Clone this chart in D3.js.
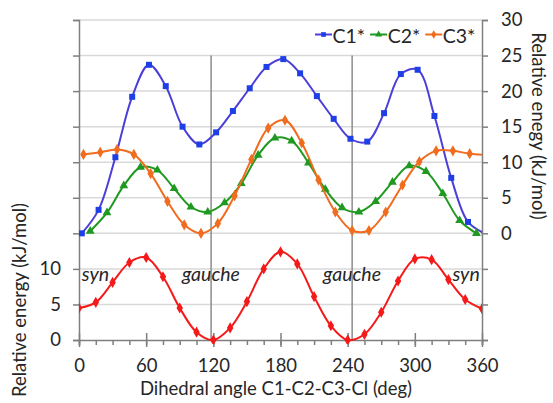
<!DOCTYPE html>
<html>
<head>
<meta charset="utf-8">
<script src="https://cdn.jsdelivr.net/npm/d3@7"></script>
<style>
  body { margin: 0; background: #fff; }
  text { font-family: Lato, "Open Sans", sans-serif; fill: #262626; }
</style>
</head>
<body>
<script>
// data
const c1Angle = [2.5, 17.5, 32.5, 47.5, 62.5, 77.5, 92.5, 107.5, 122.5, 137.5, 152.5, 167.5, 182.5, 197.5, 212.5, 227.5, 242.5, 257.5, 272.5, 287.5, 302.5, 317.5, 332.5, 347.5, 362.5];
const c1Energy = [0, 3.3, 10.7, 19.2, 23.7, 20.7, 15.0, 12.5, 14.2, 17.2, 20.4, 23.4, 24.5, 22.5, 19.3, 16.1, 13.3, 12.9, 16.9, 22.4, 23.0, 16.5, 7.8, 1.6, 0];

const c2Angle = [10, 25, 40, 55, 70, 85, 100, 115, 130, 145, 160, 175, 190, 205, 220, 235, 250, 265, 280, 295, 310, 325, 340, 355];
const c2Energy = [0.3, 2.9, 6.7, 9.3, 8.9, 6.3, 3.7, 3.0, 4.3, 7.0, 11.0, 13.4, 13.0, 9.9, 6.2, 3.6, 3.0, 4.5, 7.2, 9.5, 8.7, 5.6, 1.8, 0.0];

const c3Angle = [4, 19, 34, 49, 64, 79, 94, 109, 124, 139, 154, 169, 184, 199, 214, 229, 244, 259, 274, 289, 304, 319, 334, 349, 364];
const c3Energy = [11.1, 11.4, 11.8, 11.1, 8.4, 4.5, 1.2, 0.0, 1.4, 5.3, 10.4, 14.8, 15.9, 12.7, 7.5, 3.0, 0.4, 0.4, 3.0, 6.8, 10.1, 11.6, 11.6, 11.2, 11.0];

const clAngle = [0, 15, 30, 45, 60, 75, 90, 105, 120, 135, 150, 165, 180, 195, 210, 225, 240, 255, 270, 285, 300, 315, 330, 345, 360];
const clEnergy = [4.5, 5.3, 8.1, 10.9, 11.6, 8.9, 4.5, 1.1, 0, 1.7, 5.4, 10.0, 12.4, 10.7, 6.1, 2.0, 0, 0.8, 3.9, 8.3, 11.4, 11.3, 8.5, 5.7, 4.4];

const xTicks = [0, 60, 120, 180, 240, 300, 360];
const leftLabels = [0, 5, 10];
const rightLabels = [0, 5, 10, 15, 20, 25, 30];
const gaucheAngles = [118, 244];
const notes = [
  {text: "syn", angle: 2.5, anchor: "start"},
  {text: "gauche", angle: 92, anchor: "start"},
  {text: "gauche", angle: 218, anchor: "start"},
  {text: "syn", angle: 358, anchor: "end"}
];

const W = 553, H = 403;
const mLeft = 79, mRight = 482, mTop = 20, mBottom = 340;
const upperOffset = 15; // the upper panel sits 15 units up

const svg = d3.select("body").append("svg").attr("width", W).attr("height", H);

const x = d3.scaleLinear().domain([0, 360]).range([mLeft, mRight]);
const y = d3.scaleLinear().domain([0, 45]).range([mBottom, mTop]);

// grid
svg.append("g").selectAll("line").data(d3.range(5, 46, 5)).enter().append("line")
  .attr("x1", mLeft).attr("x2", mRight)
  .attr("y1", d => y(d)).attr("y2", d => y(d))
  .attr("stroke", "#d9d9d9").attr("stroke-width", 1.5);

svg.append("g").selectAll("line").data(gaucheAngles).enter().append("line")
  .attr("x1", d => x(d)).attr("x2", d => x(d))
  .attr("y1", y(40)).attr("y2", y(0))
  .attr("stroke", "#8c8c8c").attr("stroke-width", 1.5);

// axes
const axisColor = "#7f7f7f";
const xAxis = svg.append("g").attr("transform", `translate(0,${mBottom})`)
  .call(d3.axisBottom(x).tickValues(d3.range(0, 361, 15)).tickSize(5).tickFormat(""));
const xMajor = svg.append("g").attr("transform", `translate(0,${mBottom})`)
  .call(d3.axisBottom(x).tickValues(xTicks).tickSizeInner(7).tickSizeOuter(0).tickPadding(12).tickFormat(d3.format("d")));
xMajor.selectAll(".tick line").attr("y1", -7);
xMajor.select(".domain").remove();

const leftAxis = svg.append("g").attr("transform", `translate(${mLeft},0)`)
  .call(d3.axisLeft(y).tickValues(d3.range(0, 46, 5)).tickSizeOuter(0).tickSize(6).tickPadding(12)
    .tickFormat(d => leftLabels.includes(d) ? d : ""));

const yR = d3.scaleLinear().domain([-upperOffset, 45 - upperOffset]).range([mBottom, mTop]);
const rightAxis = svg.append("g").attr("transform", `translate(${mRight},0)`)
  .call(d3.axisRight(yR).tickValues(d3.range(-15, 31, 5)).tickSizeOuter(0).tickSize(6).tickPadding(13)
    .tickFormat(d => rightLabels.includes(d) ? d : ""));

[xAxis, xMajor, leftAxis, rightAxis].forEach(g => {
  g.selectAll("line").attr("stroke", axisColor).attr("stroke-width", 1.5);
  g.selectAll(".domain").attr("stroke", axisColor).attr("stroke-width", 1.5);
  g.selectAll("text").attr("font-size", 18.5).attr("font-family", "Lato, sans-serif").attr("fill", "#262626");
});

// annotations
svg.append("g").selectAll("text").data(notes).enter().append("text")
  .attr("x", d => x(d.angle)).attr("y", 281)
  .attr("text-anchor", d => d.anchor)
  .attr("font-style", "italic").attr("font-size", 19.5)
  .text(d => d.text);

// series
svg.append("clipPath").attr("id", "plotclip").append("rect")
  .attr("x", mLeft).attr("y", 0).attr("width", mRight - mLeft).attr("height", mBottom + 4);

const series = [
  {name: "C1*", angle: c1Angle, energy: c1Energy, shift: upperOffset, line: "#4b3fd8", mark: "#1f3fe6", shape: d3.symbolSquare, size: 36},
  {name: "C2*", angle: c2Angle, energy: c2Energy, shift: upperOffset, line: "#1f991f", mark: "#1f991f", shape: d3.symbolTriangle, size: 34},
  {name: "C3*", angle: c3Angle, energy: c3Energy, shift: upperOffset, line: "#f06c1e", mark: "#f06c1e", shape: d3.symbolDiamond, size: 36},
  {name: "Cl", angle: clAngle, energy: clEnergy, shift: 0, line: "#f51a1a", mark: "#f51a1a", shape: d3.symbolDiamond, size: 36}
];

const plot = svg.append("g").attr("clip-path", "url(#plotclip)");
const line = d3.line().curve(d3.curveCatmullRom.alpha(0.5));

series.forEach(s => {
  const pts = s.angle.map((a, i) => [x(a), y(s.energy[i] + s.shift)]);
  plot.append("path").attr("d", line(pts))
    .attr("fill", "none").attr("stroke", s.line).attr("stroke-width", 2);
  plot.selectAll(null).data(pts).enter().append("path")
    .attr("d", d3.symbol().type(s.shape).size(s.size))
    .attr("transform", d => `translate(${d[0]},${d[1]})`)
    .attr("fill", s.mark);
});

// legend
const legend = svg.append("g").attr("transform", "translate(315,34.5)");
let lx = 0;
series.slice(0, 3).forEach(s => {
  const g = legend.append("g").attr("transform", `translate(${lx},0)`);
  g.append("line").attr("x1", 0).attr("x2", 17).attr("stroke", s.line).attr("stroke-width", 2);
  g.append("path").attr("d", d3.symbol().type(s.shape).size(22)).attr("transform", "translate(8.5,0)").attr("fill", s.mark);
  const t = g.append("text").attr("x", 17.5).attr("y", 8).attr("font-size", 19.5).text(s.name);
  lx += 17.5 + t.node().getComputedTextLength() + 5;
});

// axis titles
svg.append("text").attr("x", 276).attr("y", 395).attr("text-anchor", "middle").attr("font-size", 18.5)
  .text("Dihedral angle C1-C2-C3-Cl (deg)");
svg.append("text").attr("transform", "translate(26,300) rotate(-90)").attr("text-anchor", "middle").attr("font-size", 18.5)
  .text("Relative energy (kJ/mol)");
svg.append("text").attr("transform", "translate(532,126) rotate(90)").attr("text-anchor", "middle").attr("font-size", 18.5)
  .text("Relative enegy (kJ/mol)");
</script>
</body>
</html>
